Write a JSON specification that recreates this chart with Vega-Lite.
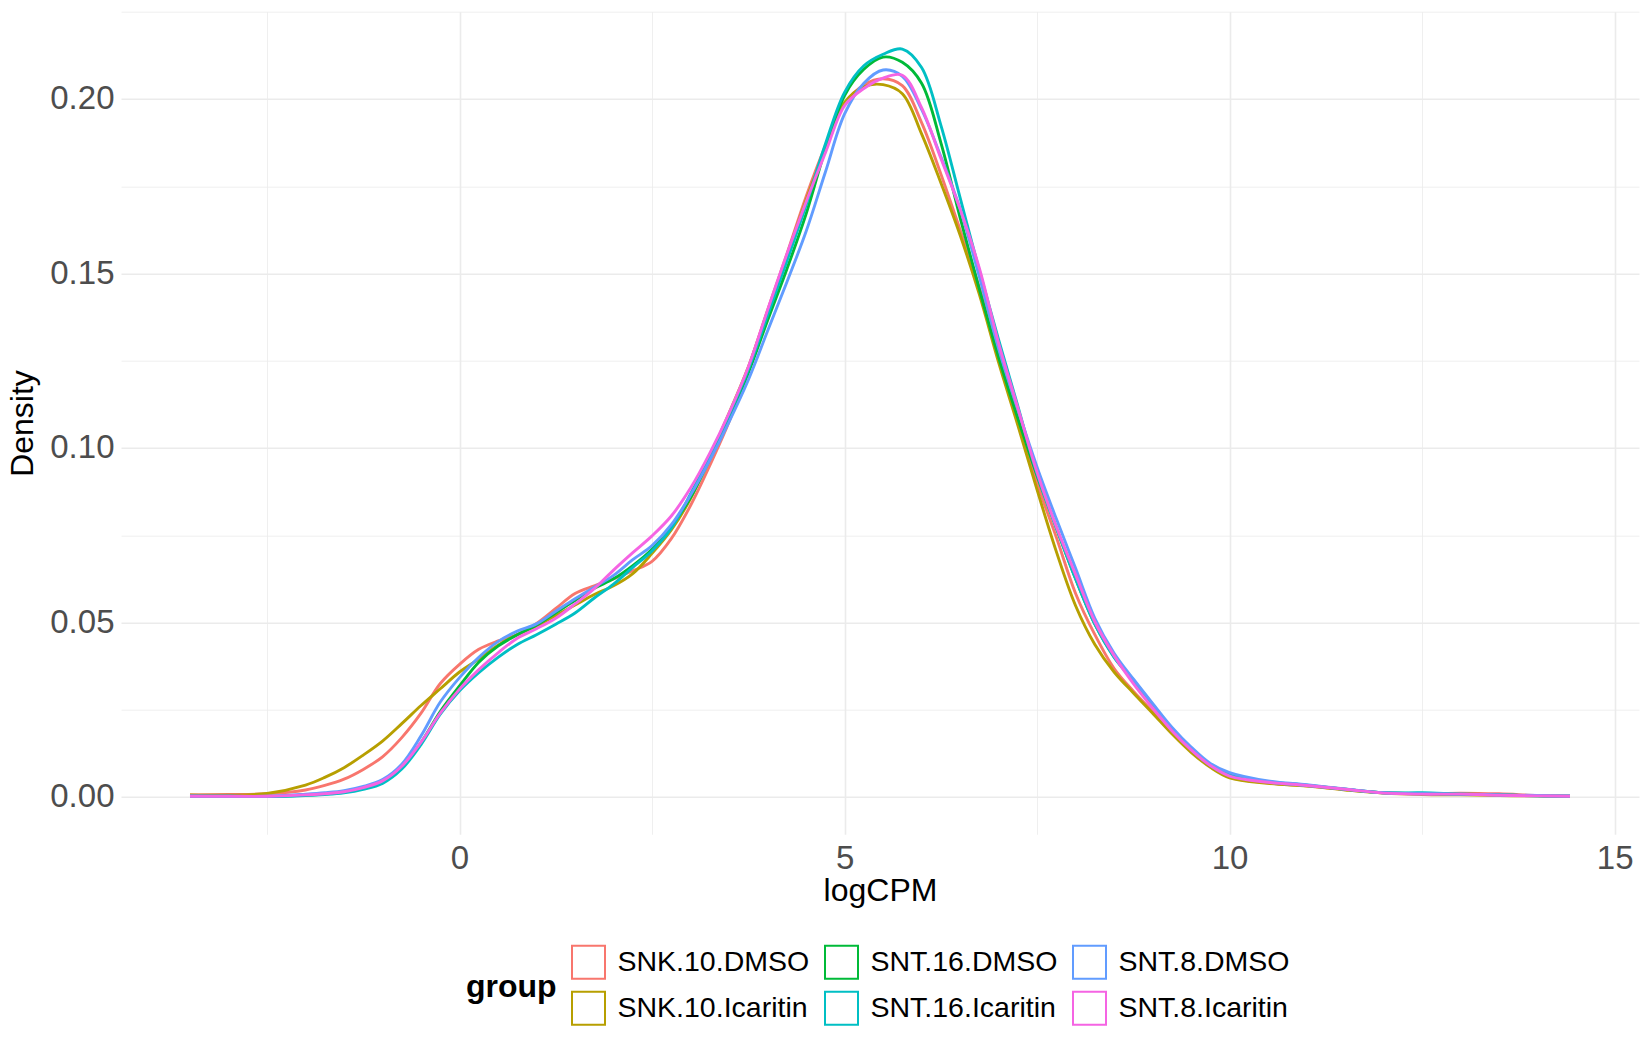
{
  "$schema": "https://vega.github.io/schema/vega-lite/v6.json",
  "width": 1518,
  "height": 822.6,
  "autosize": {"type": "none"},
  "padding": {"left": 121, "top": 11.7, "right": 11, "bottom": 215.7},
  "background": "white",
  "config": {
    "view": {"stroke": null},
    "font": "Liberation Sans"
  },
  "data": {"values": [
{"group":"SNK.10.DMSO","logCPM":-3.5,"density":0.0006},{"group":"SNK.10.DMSO","logCPM":-3,"density":0.0007},{"group":"SNK.10.DMSO","logCPM":-2.5,"density":0.0009},{"group":"SNK.10.DMSO","logCPM":-2,"density":0.002},{"group":"SNK.10.DMSO","logCPM":-1.75,"density":0.0033},{"group":"SNK.10.DMSO","logCPM":-1.5,"density":0.0051},{"group":"SNK.10.DMSO","logCPM":-1.25,"density":0.0079},{"group":"SNK.10.DMSO","logCPM":-1,"density":0.0115},{"group":"SNK.10.DMSO","logCPM":-0.75,"density":0.017},{"group":"SNK.10.DMSO","logCPM":-0.5,"density":0.024},{"group":"SNK.10.DMSO","logCPM":-0.25,"density":0.0325},{"group":"SNK.10.DMSO","logCPM":0,"density":0.038},{"group":"SNK.10.DMSO","logCPM":0.25,"density":0.0423},{"group":"SNK.10.DMSO","logCPM":0.5,"density":0.0447},{"group":"SNK.10.DMSO","logCPM":0.75,"density":0.0465},{"group":"SNK.10.DMSO","logCPM":1,"density":0.0497},{"group":"SNK.10.DMSO","logCPM":1.25,"density":0.054},{"group":"SNK.10.DMSO","logCPM":1.5,"density":0.0583},{"group":"SNK.10.DMSO","logCPM":1.75,"density":0.0605},{"group":"SNK.10.DMSO","logCPM":2,"density":0.0625},{"group":"SNK.10.DMSO","logCPM":2.25,"density":0.0648},{"group":"SNK.10.DMSO","logCPM":2.5,"density":0.0675},{"group":"SNK.10.DMSO","logCPM":2.75,"density":0.074},{"group":"SNK.10.DMSO","logCPM":3,"density":0.0835},{"group":"SNK.10.DMSO","logCPM":3.25,"density":0.095},{"group":"SNK.10.DMSO","logCPM":3.5,"density":0.1075},{"group":"SNK.10.DMSO","logCPM":3.75,"density":0.1228},{"group":"SNK.10.DMSO","logCPM":4,"density":0.1395},{"group":"SNK.10.DMSO","logCPM":4.25,"density":0.1555},{"group":"SNK.10.DMSO","logCPM":4.5,"density":0.172},{"group":"SNK.10.DMSO","logCPM":4.75,"density":0.1865},{"group":"SNK.10.DMSO","logCPM":5,"density":0.1986},{"group":"SNK.10.DMSO","logCPM":5.25,"density":0.204},{"group":"SNK.10.DMSO","logCPM":5.5,"density":0.2058},{"group":"SNK.10.DMSO","logCPM":5.75,"density":0.2038},{"group":"SNK.10.DMSO","logCPM":6,"density":0.1932},{"group":"SNK.10.DMSO","logCPM":6.25,"density":0.1785},{"group":"SNK.10.DMSO","logCPM":6.5,"density":0.1625},{"group":"SNK.10.DMSO","logCPM":6.75,"density":0.146},{"group":"SNK.10.DMSO","logCPM":7,"density":0.127},{"group":"SNK.10.DMSO","logCPM":7.25,"density":0.109},{"group":"SNK.10.DMSO","logCPM":7.5,"density":0.09},{"group":"SNK.10.DMSO","logCPM":7.75,"density":0.0744},{"group":"SNK.10.DMSO","logCPM":8,"density":0.0583},{"group":"SNK.10.DMSO","logCPM":8.25,"density":0.0465},{"group":"SNK.10.DMSO","logCPM":8.5,"density":0.0368},{"group":"SNK.10.DMSO","logCPM":8.75,"density":0.0303},{"group":"SNK.10.DMSO","logCPM":9,"density":0.0245},{"group":"SNK.10.DMSO","logCPM":9.25,"density":0.0185},{"group":"SNK.10.DMSO","logCPM":9.5,"density":0.0132},{"group":"SNK.10.DMSO","logCPM":9.75,"density":0.0088},{"group":"SNK.10.DMSO","logCPM":10,"density":0.0057},{"group":"SNK.10.DMSO","logCPM":10.5,"density":0.004},{"group":"SNK.10.DMSO","logCPM":11,"density":0.0032},{"group":"SNK.10.DMSO","logCPM":11.5,"density":0.0021},{"group":"SNK.10.DMSO","logCPM":12,"density":0.0012},{"group":"SNK.10.DMSO","logCPM":12.5,"density":0.0009},{"group":"SNK.10.DMSO","logCPM":13,"density":0.0011},{"group":"SNK.10.DMSO","logCPM":13.5,"density":0.0009},{"group":"SNK.10.DMSO","logCPM":14,"density":0.0004},{"group":"SNK.10.DMSO","logCPM":14.42,"density":0.0002},
{"group":"SNK.10.Icaritin","logCPM":-3.5,"density":0.0006},{"group":"SNK.10.Icaritin","logCPM":-3,"density":0.0005},{"group":"SNK.10.Icaritin","logCPM":-2.5,"density":0.001},{"group":"SNK.10.Icaritin","logCPM":-2,"density":0.0034},{"group":"SNK.10.Icaritin","logCPM":-1.75,"density":0.0056},{"group":"SNK.10.Icaritin","logCPM":-1.5,"density":0.0084},{"group":"SNK.10.Icaritin","logCPM":-1.25,"density":0.012},{"group":"SNK.10.Icaritin","logCPM":-1,"density":0.016},{"group":"SNK.10.Icaritin","logCPM":-0.75,"density":0.021},{"group":"SNK.10.Icaritin","logCPM":-0.5,"density":0.0262},{"group":"SNK.10.Icaritin","logCPM":-0.25,"density":0.031},{"group":"SNK.10.Icaritin","logCPM":0,"density":0.0358},{"group":"SNK.10.Icaritin","logCPM":0.25,"density":0.0395},{"group":"SNK.10.Icaritin","logCPM":0.5,"density":0.0435},{"group":"SNK.10.Icaritin","logCPM":0.75,"density":0.0465},{"group":"SNK.10.Icaritin","logCPM":1,"density":0.049},{"group":"SNK.10.Icaritin","logCPM":1.25,"density":0.052},{"group":"SNK.10.Icaritin","logCPM":1.5,"density":0.055},{"group":"SNK.10.Icaritin","logCPM":1.75,"density":0.058},{"group":"SNK.10.Icaritin","logCPM":2,"density":0.0605},{"group":"SNK.10.Icaritin","logCPM":2.25,"density":0.064},{"group":"SNK.10.Icaritin","logCPM":2.5,"density":0.0698},{"group":"SNK.10.Icaritin","logCPM":2.75,"density":0.0765},{"group":"SNK.10.Icaritin","logCPM":3,"density":0.0855},{"group":"SNK.10.Icaritin","logCPM":3.25,"density":0.0975},{"group":"SNK.10.Icaritin","logCPM":3.5,"density":0.11},{"group":"SNK.10.Icaritin","logCPM":3.75,"density":0.1232},{"group":"SNK.10.Icaritin","logCPM":4,"density":0.139},{"group":"SNK.10.Icaritin","logCPM":4.25,"density":0.155},{"group":"SNK.10.Icaritin","logCPM":4.5,"density":0.171},{"group":"SNK.10.Icaritin","logCPM":4.75,"density":0.1855},{"group":"SNK.10.Icaritin","logCPM":5,"density":0.199},{"group":"SNK.10.Icaritin","logCPM":5.25,"density":0.2035},{"group":"SNK.10.Icaritin","logCPM":5.5,"density":0.2041},{"group":"SNK.10.Icaritin","logCPM":5.75,"density":0.2015},{"group":"SNK.10.Icaritin","logCPM":6,"density":0.19},{"group":"SNK.10.Icaritin","logCPM":6.25,"density":0.176},{"group":"SNK.10.Icaritin","logCPM":6.5,"density":0.161},{"group":"SNK.10.Icaritin","logCPM":6.75,"density":0.144},{"group":"SNK.10.Icaritin","logCPM":7,"density":0.1245},{"group":"SNK.10.Icaritin","logCPM":7.25,"density":0.1065},{"group":"SNK.10.Icaritin","logCPM":7.5,"density":0.088},{"group":"SNK.10.Icaritin","logCPM":7.75,"density":0.0703},{"group":"SNK.10.Icaritin","logCPM":8,"density":0.0548},{"group":"SNK.10.Icaritin","logCPM":8.25,"density":0.0437},{"group":"SNK.10.Icaritin","logCPM":8.5,"density":0.0358},{"group":"SNK.10.Icaritin","logCPM":8.75,"density":0.0298},{"group":"SNK.10.Icaritin","logCPM":9,"density":0.024},{"group":"SNK.10.Icaritin","logCPM":9.25,"density":0.0181},{"group":"SNK.10.Icaritin","logCPM":9.5,"density":0.0128},{"group":"SNK.10.Icaritin","logCPM":9.75,"density":0.0085},{"group":"SNK.10.Icaritin","logCPM":10,"density":0.0055},{"group":"SNK.10.Icaritin","logCPM":10.5,"density":0.0039},{"group":"SNK.10.Icaritin","logCPM":11,"density":0.0031},{"group":"SNK.10.Icaritin","logCPM":11.5,"density":0.002},{"group":"SNK.10.Icaritin","logCPM":12,"density":0.0011},{"group":"SNK.10.Icaritin","logCPM":12.5,"density":0.0007},{"group":"SNK.10.Icaritin","logCPM":13,"density":0.0006},{"group":"SNK.10.Icaritin","logCPM":13.5,"density":0.0004},{"group":"SNK.10.Icaritin","logCPM":14,"density":0.0003},{"group":"SNK.10.Icaritin","logCPM":14.42,"density":0.0002},
{"group":"SNT.16.DMSO","logCPM":-3.5,"density":0.0002},{"group":"SNT.16.DMSO","logCPM":-3,"density":0.0002},{"group":"SNT.16.DMSO","logCPM":-2.5,"density":0.0001},{"group":"SNT.16.DMSO","logCPM":-2,"density":0.0005},{"group":"SNT.16.DMSO","logCPM":-1.75,"density":0.0008},{"group":"SNT.16.DMSO","logCPM":-1.5,"density":0.0014},{"group":"SNT.16.DMSO","logCPM":-1.25,"density":0.0025},{"group":"SNT.16.DMSO","logCPM":-1,"density":0.0043},{"group":"SNT.16.DMSO","logCPM":-0.75,"density":0.0085},{"group":"SNT.16.DMSO","logCPM":-0.5,"density":0.0156},{"group":"SNT.16.DMSO","logCPM":-0.25,"density":0.0245},{"group":"SNT.16.DMSO","logCPM":0,"density":0.0318},{"group":"SNT.16.DMSO","logCPM":0.25,"density":0.0386},{"group":"SNT.16.DMSO","logCPM":0.5,"density":0.0432},{"group":"SNT.16.DMSO","logCPM":0.75,"density":0.0465},{"group":"SNT.16.DMSO","logCPM":1,"density":0.0492},{"group":"SNT.16.DMSO","logCPM":1.25,"density":0.0528},{"group":"SNT.16.DMSO","logCPM":1.5,"density":0.0563},{"group":"SNT.16.DMSO","logCPM":1.75,"density":0.0598},{"group":"SNT.16.DMSO","logCPM":2,"density":0.0625},{"group":"SNT.16.DMSO","logCPM":2.25,"density":0.0663},{"group":"SNT.16.DMSO","logCPM":2.5,"density":0.071},{"group":"SNT.16.DMSO","logCPM":2.75,"density":0.0775},{"group":"SNT.16.DMSO","logCPM":3,"density":0.0858},{"group":"SNT.16.DMSO","logCPM":3.25,"density":0.0968},{"group":"SNT.16.DMSO","logCPM":3.5,"density":0.1085},{"group":"SNT.16.DMSO","logCPM":3.75,"density":0.1215},{"group":"SNT.16.DMSO","logCPM":4,"density":0.1365},{"group":"SNT.16.DMSO","logCPM":4.25,"density":0.1512},{"group":"SNT.16.DMSO","logCPM":4.5,"density":0.167},{"group":"SNT.16.DMSO","logCPM":4.75,"density":0.1855},{"group":"SNT.16.DMSO","logCPM":5,"density":0.201},{"group":"SNT.16.DMSO","logCPM":5.25,"density":0.2085},{"group":"SNT.16.DMSO","logCPM":5.5,"density":0.212},{"group":"SNT.16.DMSO","logCPM":5.75,"density":0.2105},{"group":"SNT.16.DMSO","logCPM":6,"density":0.2045},{"group":"SNT.16.DMSO","logCPM":6.25,"density":0.1875},{"group":"SNT.16.DMSO","logCPM":6.5,"density":0.166},{"group":"SNT.16.DMSO","logCPM":6.75,"density":0.1455},{"group":"SNT.16.DMSO","logCPM":7,"density":0.126},{"group":"SNT.16.DMSO","logCPM":7.25,"density":0.1085},{"group":"SNT.16.DMSO","logCPM":7.5,"density":0.092},{"group":"SNT.16.DMSO","logCPM":7.75,"density":0.0771},{"group":"SNT.16.DMSO","logCPM":8,"density":0.0625},{"group":"SNT.16.DMSO","logCPM":8.25,"density":0.0495},{"group":"SNT.16.DMSO","logCPM":8.5,"density":0.0402},{"group":"SNT.16.DMSO","logCPM":8.75,"density":0.0335},{"group":"SNT.16.DMSO","logCPM":9,"density":0.0265},{"group":"SNT.16.DMSO","logCPM":9.25,"density":0.0196},{"group":"SNT.16.DMSO","logCPM":9.5,"density":0.0139},{"group":"SNT.16.DMSO","logCPM":9.75,"density":0.0093},{"group":"SNT.16.DMSO","logCPM":10,"density":0.0064},{"group":"SNT.16.DMSO","logCPM":10.5,"density":0.0044},{"group":"SNT.16.DMSO","logCPM":11,"density":0.0034},{"group":"SNT.16.DMSO","logCPM":11.5,"density":0.0022},{"group":"SNT.16.DMSO","logCPM":12,"density":0.0012},{"group":"SNT.16.DMSO","logCPM":12.5,"density":0.001},{"group":"SNT.16.DMSO","logCPM":13,"density":0.0008},{"group":"SNT.16.DMSO","logCPM":13.5,"density":0.0006},{"group":"SNT.16.DMSO","logCPM":14,"density":0.0003},{"group":"SNT.16.DMSO","logCPM":14.42,"density":0.0002},
{"group":"SNT.16.Icaritin","logCPM":-3.5,"density":0.0002},{"group":"SNT.16.Icaritin","logCPM":-3,"density":0.0002},{"group":"SNT.16.Icaritin","logCPM":-2.5,"density":0.0001},{"group":"SNT.16.Icaritin","logCPM":-2,"density":0.0004},{"group":"SNT.16.Icaritin","logCPM":-1.75,"density":0.0007},{"group":"SNT.16.Icaritin","logCPM":-1.5,"density":0.0012},{"group":"SNT.16.Icaritin","logCPM":-1.25,"density":0.0022},{"group":"SNT.16.Icaritin","logCPM":-1,"density":0.0039},{"group":"SNT.16.Icaritin","logCPM":-0.75,"density":0.008},{"group":"SNT.16.Icaritin","logCPM":-0.5,"density":0.015},{"group":"SNT.16.Icaritin","logCPM":-0.25,"density":0.0237},{"group":"SNT.16.Icaritin","logCPM":0,"density":0.0304},{"group":"SNT.16.Icaritin","logCPM":0.25,"density":0.0356},{"group":"SNT.16.Icaritin","logCPM":0.5,"density":0.04},{"group":"SNT.16.Icaritin","logCPM":0.75,"density":0.0437},{"group":"SNT.16.Icaritin","logCPM":1,"density":0.0465},{"group":"SNT.16.Icaritin","logCPM":1.25,"density":0.0495},{"group":"SNT.16.Icaritin","logCPM":1.5,"density":0.0527},{"group":"SNT.16.Icaritin","logCPM":1.75,"density":0.057},{"group":"SNT.16.Icaritin","logCPM":2,"density":0.061},{"group":"SNT.16.Icaritin","logCPM":2.25,"density":0.0658},{"group":"SNT.16.Icaritin","logCPM":2.5,"density":0.0705},{"group":"SNT.16.Icaritin","logCPM":2.75,"density":0.077},{"group":"SNT.16.Icaritin","logCPM":3,"density":0.0868},{"group":"SNT.16.Icaritin","logCPM":3.25,"density":0.098},{"group":"SNT.16.Icaritin","logCPM":3.5,"density":0.1095},{"group":"SNT.16.Icaritin","logCPM":3.75,"density":0.1225},{"group":"SNT.16.Icaritin","logCPM":4,"density":0.138},{"group":"SNT.16.Icaritin","logCPM":4.25,"density":0.1535},{"group":"SNT.16.Icaritin","logCPM":4.5,"density":0.1695},{"group":"SNT.16.Icaritin","logCPM":4.75,"density":0.187},{"group":"SNT.16.Icaritin","logCPM":5,"density":0.2019},{"group":"SNT.16.Icaritin","logCPM":5.25,"density":0.2095},{"group":"SNT.16.Icaritin","logCPM":5.5,"density":0.2128},{"group":"SNT.16.Icaritin","logCPM":5.75,"density":0.2143},{"group":"SNT.16.Icaritin","logCPM":6,"density":0.209},{"group":"SNT.16.Icaritin","logCPM":6.25,"density":0.1925},{"group":"SNT.16.Icaritin","logCPM":6.5,"density":0.1717},{"group":"SNT.16.Icaritin","logCPM":6.75,"density":0.1508},{"group":"SNT.16.Icaritin","logCPM":7,"density":0.131},{"group":"SNT.16.Icaritin","logCPM":7.25,"density":0.112},{"group":"SNT.16.Icaritin","logCPM":7.5,"density":0.0925},{"group":"SNT.16.Icaritin","logCPM":7.75,"density":0.0771},{"group":"SNT.16.Icaritin","logCPM":8,"density":0.0625},{"group":"SNT.16.Icaritin","logCPM":8.25,"density":0.0495},{"group":"SNT.16.Icaritin","logCPM":8.5,"density":0.04},{"group":"SNT.16.Icaritin","logCPM":8.75,"density":0.0333},{"group":"SNT.16.Icaritin","logCPM":9,"density":0.0262},{"group":"SNT.16.Icaritin","logCPM":9.25,"density":0.0193},{"group":"SNT.16.Icaritin","logCPM":9.5,"density":0.0136},{"group":"SNT.16.Icaritin","logCPM":9.75,"density":0.009},{"group":"SNT.16.Icaritin","logCPM":10,"density":0.0062},{"group":"SNT.16.Icaritin","logCPM":10.5,"density":0.0043},{"group":"SNT.16.Icaritin","logCPM":11,"density":0.0033},{"group":"SNT.16.Icaritin","logCPM":11.5,"density":0.0022},{"group":"SNT.16.Icaritin","logCPM":12,"density":0.0012},{"group":"SNT.16.Icaritin","logCPM":12.5,"density":0.0012},{"group":"SNT.16.Icaritin","logCPM":13,"density":0.0008},{"group":"SNT.16.Icaritin","logCPM":13.5,"density":0.0006},{"group":"SNT.16.Icaritin","logCPM":14,"density":0.0003},{"group":"SNT.16.Icaritin","logCPM":14.42,"density":0.0002},
{"group":"SNT.8.DMSO","logCPM":-3.5,"density":0.0003},{"group":"SNT.8.DMSO","logCPM":-3,"density":0.0002},{"group":"SNT.8.DMSO","logCPM":-2.5,"density":0.0002},{"group":"SNT.8.DMSO","logCPM":-2,"density":0.0008},{"group":"SNT.8.DMSO","logCPM":-1.75,"density":0.0012},{"group":"SNT.8.DMSO","logCPM":-1.5,"density":0.0018},{"group":"SNT.8.DMSO","logCPM":-1.25,"density":0.003},{"group":"SNT.8.DMSO","logCPM":-1,"density":0.005},{"group":"SNT.8.DMSO","logCPM":-0.75,"density":0.0094},{"group":"SNT.8.DMSO","logCPM":-0.5,"density":0.0175},{"group":"SNT.8.DMSO","logCPM":-0.25,"density":0.0272},{"group":"SNT.8.DMSO","logCPM":0,"density":0.0342},{"group":"SNT.8.DMSO","logCPM":0.25,"density":0.04},{"group":"SNT.8.DMSO","logCPM":0.5,"density":0.0445},{"group":"SNT.8.DMSO","logCPM":0.75,"density":0.0475},{"group":"SNT.8.DMSO","logCPM":1,"density":0.0496},{"group":"SNT.8.DMSO","logCPM":1.25,"density":0.0532},{"group":"SNT.8.DMSO","logCPM":1.5,"density":0.0568},{"group":"SNT.8.DMSO","logCPM":1.75,"density":0.0601},{"group":"SNT.8.DMSO","logCPM":2,"density":0.0635},{"group":"SNT.8.DMSO","logCPM":2.25,"density":0.068},{"group":"SNT.8.DMSO","logCPM":2.5,"density":0.072},{"group":"SNT.8.DMSO","logCPM":2.75,"density":0.078},{"group":"SNT.8.DMSO","logCPM":3,"density":0.0865},{"group":"SNT.8.DMSO","logCPM":3.25,"density":0.0965},{"group":"SNT.8.DMSO","logCPM":3.5,"density":0.1075},{"group":"SNT.8.DMSO","logCPM":3.75,"density":0.1195},{"group":"SNT.8.DMSO","logCPM":4,"density":0.1335},{"group":"SNT.8.DMSO","logCPM":4.25,"density":0.1475},{"group":"SNT.8.DMSO","logCPM":4.5,"density":0.162},{"group":"SNT.8.DMSO","logCPM":4.75,"density":0.179},{"group":"SNT.8.DMSO","logCPM":5,"density":0.1957},{"group":"SNT.8.DMSO","logCPM":5.25,"density":0.2045},{"group":"SNT.8.DMSO","logCPM":5.5,"density":0.2083},{"group":"SNT.8.DMSO","logCPM":5.75,"density":0.2065},{"group":"SNT.8.DMSO","logCPM":6,"density":0.197},{"group":"SNT.8.DMSO","logCPM":6.25,"density":0.1835},{"group":"SNT.8.DMSO","logCPM":6.5,"density":0.1685},{"group":"SNT.8.DMSO","logCPM":6.75,"density":0.149},{"group":"SNT.8.DMSO","logCPM":7,"density":0.1285},{"group":"SNT.8.DMSO","logCPM":7.25,"density":0.111},{"group":"SNT.8.DMSO","logCPM":7.5,"density":0.0945},{"group":"SNT.8.DMSO","logCPM":7.75,"density":0.0797},{"group":"SNT.8.DMSO","logCPM":8,"density":0.0655},{"group":"SNT.8.DMSO","logCPM":8.25,"density":0.0512},{"group":"SNT.8.DMSO","logCPM":8.5,"density":0.0412},{"group":"SNT.8.DMSO","logCPM":8.75,"density":0.0338},{"group":"SNT.8.DMSO","logCPM":9,"density":0.0268},{"group":"SNT.8.DMSO","logCPM":9.25,"density":0.02},{"group":"SNT.8.DMSO","logCPM":9.5,"density":0.0143},{"group":"SNT.8.DMSO","logCPM":9.75,"density":0.0096},{"group":"SNT.8.DMSO","logCPM":10,"density":0.007},{"group":"SNT.8.DMSO","logCPM":10.5,"density":0.0046},{"group":"SNT.8.DMSO","logCPM":11,"density":0.0035},{"group":"SNT.8.DMSO","logCPM":11.5,"density":0.0023},{"group":"SNT.8.DMSO","logCPM":12,"density":0.0012},{"group":"SNT.8.DMSO","logCPM":12.5,"density":0.0009},{"group":"SNT.8.DMSO","logCPM":13,"density":0.0008},{"group":"SNT.8.DMSO","logCPM":13.5,"density":0.0006},{"group":"SNT.8.DMSO","logCPM":14,"density":0.0004},{"group":"SNT.8.DMSO","logCPM":14.42,"density":0.0003},
{"group":"SNT.8.Icaritin","logCPM":-3.5,"density":0.0002},{"group":"SNT.8.Icaritin","logCPM":-3,"density":0.0002},{"group":"SNT.8.Icaritin","logCPM":-2.5,"density":0.0002},{"group":"SNT.8.Icaritin","logCPM":-2,"density":0.0006},{"group":"SNT.8.Icaritin","logCPM":-1.75,"density":0.0009},{"group":"SNT.8.Icaritin","logCPM":-1.5,"density":0.0015},{"group":"SNT.8.Icaritin","logCPM":-1.25,"density":0.0027},{"group":"SNT.8.Icaritin","logCPM":-1,"density":0.0046},{"group":"SNT.8.Icaritin","logCPM":-0.75,"density":0.0088},{"group":"SNT.8.Icaritin","logCPM":-0.5,"density":0.0157},{"group":"SNT.8.Icaritin","logCPM":-0.25,"density":0.024},{"group":"SNT.8.Icaritin","logCPM":0,"density":0.0309},{"group":"SNT.8.Icaritin","logCPM":0.25,"density":0.0365},{"group":"SNT.8.Icaritin","logCPM":0.5,"density":0.0413},{"group":"SNT.8.Icaritin","logCPM":0.75,"density":0.0455},{"group":"SNT.8.Icaritin","logCPM":1,"density":0.0482},{"group":"SNT.8.Icaritin","logCPM":1.25,"density":0.0512},{"group":"SNT.8.Icaritin","logCPM":1.5,"density":0.0553},{"group":"SNT.8.Icaritin","logCPM":1.75,"density":0.0597},{"group":"SNT.8.Icaritin","logCPM":2,"density":0.065},{"group":"SNT.8.Icaritin","logCPM":2.25,"density":0.07},{"group":"SNT.8.Icaritin","logCPM":2.5,"density":0.0748},{"group":"SNT.8.Icaritin","logCPM":2.75,"density":0.0805},{"group":"SNT.8.Icaritin","logCPM":3,"density":0.0885},{"group":"SNT.8.Icaritin","logCPM":3.25,"density":0.0985},{"group":"SNT.8.Icaritin","logCPM":3.5,"density":0.11},{"group":"SNT.8.Icaritin","logCPM":3.75,"density":0.1232},{"group":"SNT.8.Icaritin","logCPM":4,"density":0.1395},{"group":"SNT.8.Icaritin","logCPM":4.25,"density":0.1555},{"group":"SNT.8.Icaritin","logCPM":4.5,"density":0.1705},{"group":"SNT.8.Icaritin","logCPM":4.75,"density":0.1845},{"group":"SNT.8.Icaritin","logCPM":5,"density":0.1981},{"group":"SNT.8.Icaritin","logCPM":5.25,"density":0.203},{"group":"SNT.8.Icaritin","logCPM":5.5,"density":0.206},{"group":"SNT.8.Icaritin","logCPM":5.75,"density":0.2068},{"group":"SNT.8.Icaritin","logCPM":6,"density":0.1975},{"group":"SNT.8.Icaritin","logCPM":6.25,"density":0.183},{"group":"SNT.8.Icaritin","logCPM":6.5,"density":0.1685},{"group":"SNT.8.Icaritin","logCPM":6.75,"density":0.1515},{"group":"SNT.8.Icaritin","logCPM":7,"density":0.13},{"group":"SNT.8.Icaritin","logCPM":7.25,"density":0.1115},{"group":"SNT.8.Icaritin","logCPM":7.5,"density":0.093},{"group":"SNT.8.Icaritin","logCPM":7.75,"density":0.0774},{"group":"SNT.8.Icaritin","logCPM":8,"density":0.0637},{"group":"SNT.8.Icaritin","logCPM":8.25,"density":0.0502},{"group":"SNT.8.Icaritin","logCPM":8.5,"density":0.0405},{"group":"SNT.8.Icaritin","logCPM":8.75,"density":0.0325},{"group":"SNT.8.Icaritin","logCPM":9,"density":0.0255},{"group":"SNT.8.Icaritin","logCPM":9.25,"density":0.019},{"group":"SNT.8.Icaritin","logCPM":9.5,"density":0.0135},{"group":"SNT.8.Icaritin","logCPM":9.75,"density":0.009},{"group":"SNT.8.Icaritin","logCPM":10,"density":0.006},{"group":"SNT.8.Icaritin","logCPM":10.5,"density":0.0042},{"group":"SNT.8.Icaritin","logCPM":11,"density":0.0033},{"group":"SNT.8.Icaritin","logCPM":11.5,"density":0.0022},{"group":"SNT.8.Icaritin","logCPM":12,"density":0.0011},{"group":"SNT.8.Icaritin","logCPM":12.5,"density":0.0008},{"group":"SNT.8.Icaritin","logCPM":13,"density":0.0008},{"group":"SNT.8.Icaritin","logCPM":13.5,"density":0.0005},{"group":"SNT.8.Icaritin","logCPM":14,"density":0.0003},{"group":"SNT.8.Icaritin","logCPM":14.42,"density":0.0002}
  ]},
  "mark": {"type": "line", "strokeWidth": 2.9, "interpolate": "catmull-rom"},
  "encoding": {
    "x": {
      "field": "logCPM", "type": "quantitative",
      "scale": {"domain": [-4.396, 15.316], "nice": false, "zero": false},
      "axis": {
        "values": [-2.5, 0, 2.5, 5, 7.5, 10, 12.5, 15],
        "labelExpr": "datum.value % 5 === 0 ? datum.label : ''",
        "grid": true,
        "gridColor": "#EBEBEB",
        "gridWidth": {"condition": {"test": "datum.value % 5 === 0", "value": 1.6}, "value": 0.8},
        "ticks": false, "domain": false,
        "labelFont": "Liberation Sans", "labelFontSize": 33, "labelColor": "#4D4D4D",
        "labelPadding": 8, "labelFlush": false, "labelOverlap": false,
        "title": "logCPM", "titleFont": "Liberation Sans", "titleFontSize": 32,
        "titleFontWeight": "normal", "titleColor": "black",
        "titleY": 66, "titleBaseline": "alphabetic"
      }
    },
    "y": {
      "field": "density", "type": "quantitative",
      "scale": {"domain": [-0.0107, 0.225], "nice": false, "zero": false},
      "axis": {
        "values": [0, 0.025, 0.05, 0.075, 0.1, 0.125, 0.15, 0.175, 0.2, 0.225],
        "labelExpr": "round(datum.value * 1000) % 50 === 0 ? format(datum.value, '.2f') : ''",
        "grid": true,
        "gridColor": "#EBEBEB",
        "gridWidth": {"condition": {"test": "round(datum.value * 1000) % 50 === 0", "value": 1.6}, "value": 0.8},
        "ticks": false, "domain": false,
        "labelFont": "Liberation Sans", "labelFontSize": 33, "labelColor": "#4D4D4D",
        "labelPadding": 7, "labelOverlap": false, "labelFlush": false,
        "title": "Density", "titleFont": "Liberation Sans", "titleFontSize": 32,
        "titleFontWeight": "normal", "titleColor": "black",
        "titleX": -89, "titleBaseline": "alphabetic"
      }
    },
    "color": {
      "field": "group", "type": "nominal",
      "scale": {
        "domain": ["SNK.10.DMSO", "SNT.16.DMSO", "SNT.8.DMSO", "SNK.10.Icaritin", "SNT.16.Icaritin", "SNT.8.Icaritin"],
        "range": ["#F8766D", "#00BA38", "#619CFF", "#B79F00", "#00BFC4", "#F564E3"]
      },
      "legend": {
        "orient": "none", "legendX": 345, "legendY": 933,
        "direction": "horizontal", "columns": 3,
        "title": "group", "titleOrient": "left",
        "titleFont": "Liberation Sans", "titleFontSize": 32, "titleFontWeight": "bold", "titleColor": "black",
        "titleAnchor": "middle", "titleBaseline": "middle", "titlePadding": 14,
        "labelFont": "Liberation Sans", "labelFontSize": 28.5, "labelColor": "black", "labelLimit": 0,
        "symbolType": "square", "symbolSize": 1089, "symbolStrokeWidth": 2, "symbolFillColor": "white",
        "labelOffset": 11.5, "columnPadding": 11, "rowPadding": 5, "padding": 0
      }
    }
  }
}
